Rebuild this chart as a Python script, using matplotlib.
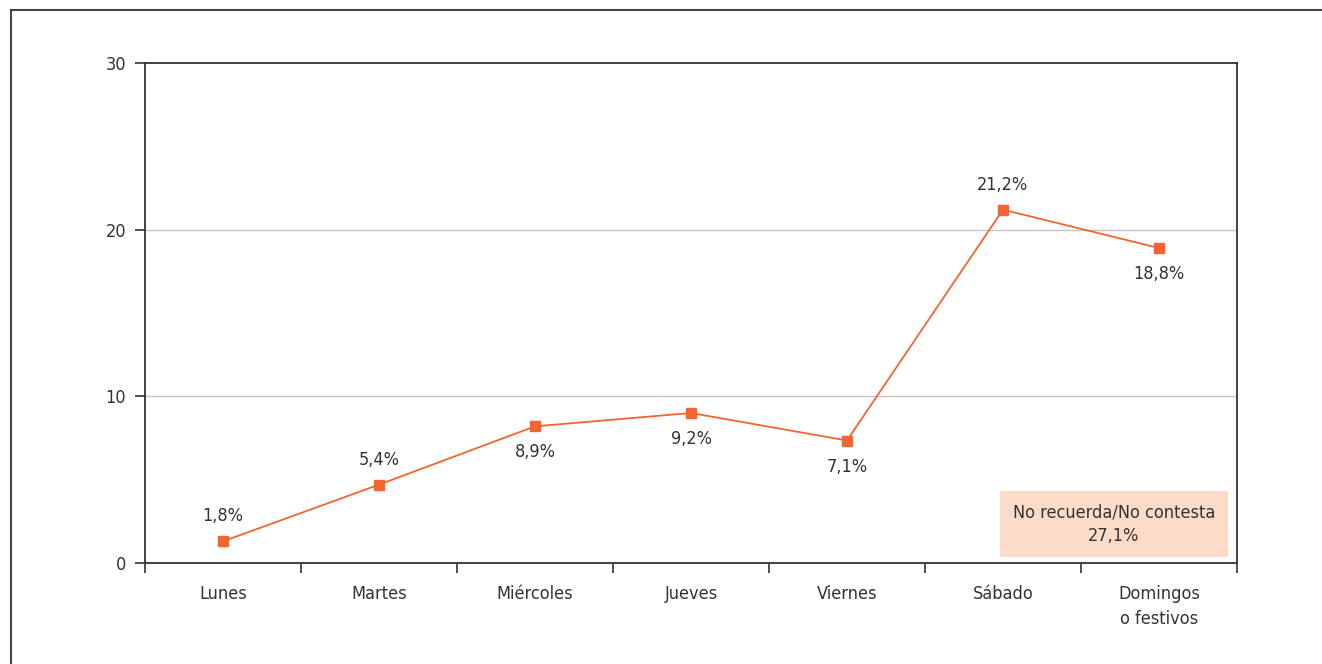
import matplotlib
matplotlib.use("Agg")
import matplotlib.pyplot as plt
from matplotlib.lines import Line2D
from matplotlib.patches import Rectangle
from matplotlib.ticker import FixedLocator

plt.rcParams['font.family'] = ['DejaVu Sans']
plt.rcParams['font.stretch'] = 'condensed'

categories = ["Lunes", "Martes", "Miércoles", "Jueves", "Viernes", "Sábado", "Domingos\no festivos"]
values = [1.3, 4.7, 8.2, 9.0, 7.35, 21.2, 18.9]
value_labels = ["1,8%", "5,4%", "8,9%", "9,2%", "7,1%", "21,2%", "18,8%"]
label_above = [True, True, False, False, False, True, False]
y_ticks = [0, 10, 20, 30]
nr_text = "No recuerda/No contesta\n27,1%"

LINE = "#F26430"
TXT = "#333333"
FS = 13

W, H = 1322, 664
fig = plt.figure(figsize=(W / 100, H / 100), dpi=100)
ax = fig.add_axes([145 / W, (H - 563) / H, (1237 - 145) / W, 500 / H])

x = list(range(len(categories)))
ax.plot(x, values, color=LINE, lw=1.3, marker='s', markersize=7.5,
        markerfacecolor=LINE, markeredgecolor=LINE, zorder=3)

for xi, v, lab, up in zip(x, values, value_labels, label_above):
    ax.annotate(lab, (xi, v), xytext=(0, 25 if up else -26), textcoords='offset pixels',
                ha='center', va='center', fontsize=FS, color=TXT)

ax.set_xlim(-0.5, len(categories) - 0.5)
ax.set_ylim(0, 30)
ax.set_yticks(y_ticks)
ax.set_yticklabels([str(t) for t in y_ticks])
ax.set_xticks(x)
ax.set_xticklabels(categories, linespacing=1.45)
ax.xaxis.set_minor_locator(FixedLocator([i - 0.5 for i in range(len(categories) + 1)]))
ax.tick_params(axis='x', which='major', length=0, pad=16, labelsize=FS, labelcolor=TXT)
ax.tick_params(axis='x', which='minor', length=7.5, width=1.2, color=TXT, direction='out')
ax.tick_params(axis='y', length=7.5, width=1.2, color=TXT, pad=6, labelsize=FS, labelcolor=TXT)

for t in [10, 20]:
    ax.axhline(t, color="#c4c4c4", lw=1.0, zorder=1)

for s in ax.spines.values():
    s.set_color(TXT)
    s.set_linewidth(1.3)

# background box for the "no recuerda" note
rect = Rectangle(((1000 - 145) / (1237 - 145), (563 - 557) / 500),
                 (1228 - 1000) / (1237 - 145), (557 - 491) / 500,
                 transform=ax.transAxes, facecolor="#FCDCC8", edgecolor='none', zorder=0.5)
ax.add_patch(rect)
ax.text((1114 - 145) / (1237 - 145), (563 - 524) / 500, nr_text, transform=ax.transAxes,
        ha='center', va='center', fontsize=FS, color=TXT, linespacing=1.4)

# outer frame (left and top edges visible)
fig.add_artist(Line2D([11 / W, 11 / W], [0, 1 - 10 / H], transform=fig.transFigure, color="#444444", lw=1.5))
fig.add_artist(Line2D([11 / W, 1], [1 - 10 / H, 1 - 10 / H], transform=fig.transFigure, color="#444444", lw=1.5))

fig.savefig("out.png", dpi=100)
